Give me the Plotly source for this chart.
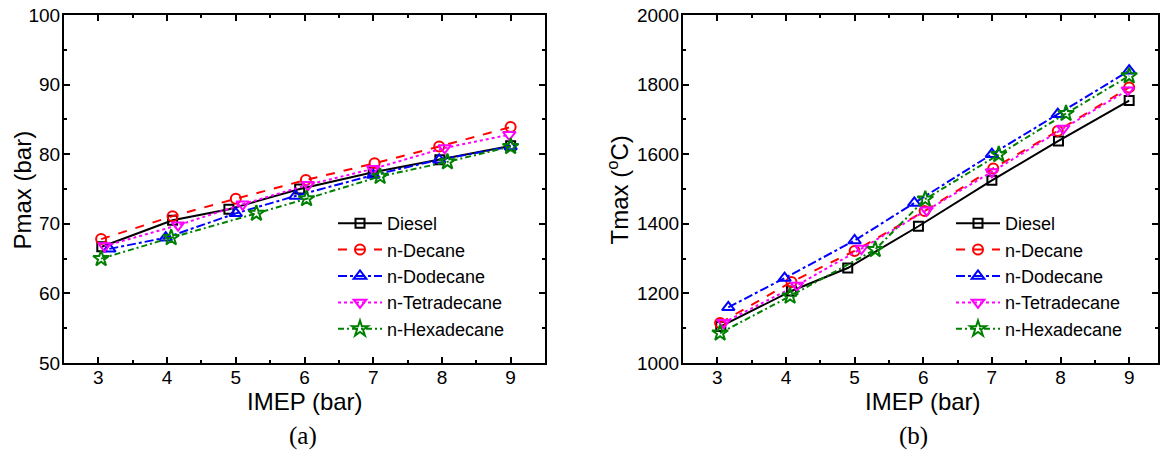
import plotly.graph_objects as go

# ---- data ----
series_names = ["Diesel", "n-Decane", "n-Dodecane", "n-Tetradecane", "n-Hexadecane"]

# IMEP positions (markers are slightly staggered in the original)
imep_diesel = [3.05, 4.08, 4.90, 5.93, 7.00, 7.97, 9.00]
imep_decane = [3.04, 4.08, 5.00, 6.02, 7.02, 7.96, 9.00]
imep_dodecane = [3.16, 3.98, 5.00, 5.87, 7.00, 7.96, 9.00]
imep_tetradecane = [3.09, 4.16, 5.10, 6.05, 7.00, 8.04, 8.98]
imep_hexadecane = [3.04, 4.06, 5.30, 6.03, 7.10, 8.08, 9.00]

pmax_diesel = [66.7, 70.5, 72.1, 75.0, 77.4, 79.2, 81.2]
pmax_decane = [67.8, 71.1, 73.6, 76.3, 78.7, 81.1, 83.9]
pmax_dodecane = [66.4, 68.0, 71.5, 74.0, 77.0, 79.2, 81.1]
pmax_tetradecane = [66.8, 69.8, 72.8, 75.6, 77.9, 80.9, 82.8]
pmax_hexadecane = [65.0, 68.0, 71.5, 73.6, 76.8, 78.9, 81.1]

tmax_diesel = [1105, 1207, 1273, 1393, 1525, 1638, 1754]
tmax_decane = [1115, 1233, 1322, 1437, 1559, 1667, 1792]
tmax_dodecane = [1160, 1244, 1352, 1460, 1600, 1715, 1840]
tmax_tetradecane = [1116, 1223, 1329, 1439, 1549, 1674, 1784]
tmax_hexadecane = [1086, 1192, 1326, 1471, 1599, 1717, 1825]

x_ticks = [3, 4, 5, 6, 7, 8, 9]
p_ticks = [50, 60, 70, 80, 90, 100]
t_ticks = [1000, 1200, 1400, 1600, 1800, 2000]

colors = ["black", "red", "blue", "magenta", "green"]
symbols = ["square-open", "circle-open", "triangle-up-open", "triangle-down-open", "star-open"]
dashes = ["solid", "dash", "dashdot", "dot", "6px,3px,2px,3px"]
msizes = [9, 10, 11, 11, 12]

imeps = [imep_diesel, imep_decane, imep_dodecane, imep_tetradecane, imep_hexadecane]
pmaxs = [pmax_diesel, pmax_decane, pmax_dodecane, pmax_tetradecane, pmax_hexadecane]
tmaxs = [tmax_diesel, tmax_decane, tmax_dodecane, tmax_tetradecane, tmax_hexadecane]

fig = go.Figure()
for i, name in enumerate(series_names):
    for (ys, xa, ya, leg) in [(pmaxs[i], "x", "y", "legend"), (tmaxs[i], "x2", "y2", "legend2")]:
        fig.add_trace(go.Scatter(
            x=imeps[i], y=ys, name=name, xaxis=xa, yaxis=ya, legend=leg,
            mode="lines+markers",
            line=dict(color=colors[i], width=2, dash=dashes[i]),
            marker=dict(symbol=symbols[i], size=msizes[i], color=colors[i],
                        line=dict(color=colors[i], width=2)),
        ))

W, H = 1163, 450
ydom = [(450 - 363) / H, (450 - 15) / H]

axis_common = dict(
    showline=True, linecolor="black", linewidth=2, mirror="allticks",
    ticks="inside", ticklen=6, tickwidth=2, tickcolor="black",
    showgrid=False, zeroline=False, automargin=False,
    tickfont=dict(family="Liberation Sans, Arial", size=19, color="black"),
)
minor_common = dict(ticks="inside", ticklen=3, tickwidth=2, tickcolor="black")

legend_font = dict(family="Liberation Sans, Arial", size=18, color="black")

fig.update_layout(
    width=W, height=H,
    margin=dict(l=0, r=0, t=0, b=0, autoexpand=False),
    paper_bgcolor="white", plot_bgcolor="white",
    showlegend=True,
    xaxis=dict(domain=[64 / W, 545 / W], range=[2.5, 9.5], tickvals=x_ticks,
               ticklabelstandoff=-4,
               minor=dict(dtick=0.5, **minor_common), anchor="y", **axis_common),
    yaxis=dict(domain=ydom, range=[50, 100], tickvals=p_ticks,
               ticklabelstandoff=-2,
               minor=dict(dtick=5, **minor_common), anchor="x", **axis_common),
    xaxis2=dict(domain=[683 / W, 1158 / W], range=[2.5, 9.42], tickvals=x_ticks,
                ticklabelstandoff=-4,
                minor=dict(dtick=0.5, **minor_common), anchor="y2", **axis_common),
    yaxis2=dict(domain=ydom, range=[1000, 2000], tickvals=t_ticks,
                ticklabelstandoff=-2,
                minor=dict(dtick=100, **minor_common), anchor="x2", **axis_common),
    legend=dict(x=333 / W, y=1 - 205 / H, xanchor="left", yanchor="top",
                bgcolor="rgba(0,0,0,0)", tracegroupgap=0, itemwidth=44,
                font=legend_font),
    legend2=dict(x=951 / W, y=1 - 205 / H, xanchor="left", yanchor="top",
                 bgcolor="rgba(0,0,0,0)", tracegroupgap=0, itemwidth=44,
                 font=legend_font),
)

sans = dict(family="Liberation Sans, Arial", size=24, color="black")
serif = dict(family="Liberation Serif, Times New Roman", size=25, color="black")
annos = [
    dict(text="Pmax (bar)", x=21.5 / W, y=1 - 190 / H, textangle=-90, font=sans),
    dict(text="Tmax (<sup>o</sup>C)", x=617.5 / W, y=1 - 190 / H, textangle=-90, font=sans),
    dict(text="IMEP (bar)", x=305 / W, y=1 - 401 / H, font=sans),
    dict(text="IMEP (bar)", x=923 / W, y=1 - 401 / H, font=sans),
    dict(text="(a)", x=303 / W, y=1 - 436 / H, font=serif),
    dict(text="(b)", x=913 / W, y=1 - 436 / H, font=serif),
]
for a in annos:
    fig.add_annotation(xref="paper", yref="paper", showarrow=False,
                       xanchor="center", yanchor="middle", **a)

fig.write_html("out.html")
